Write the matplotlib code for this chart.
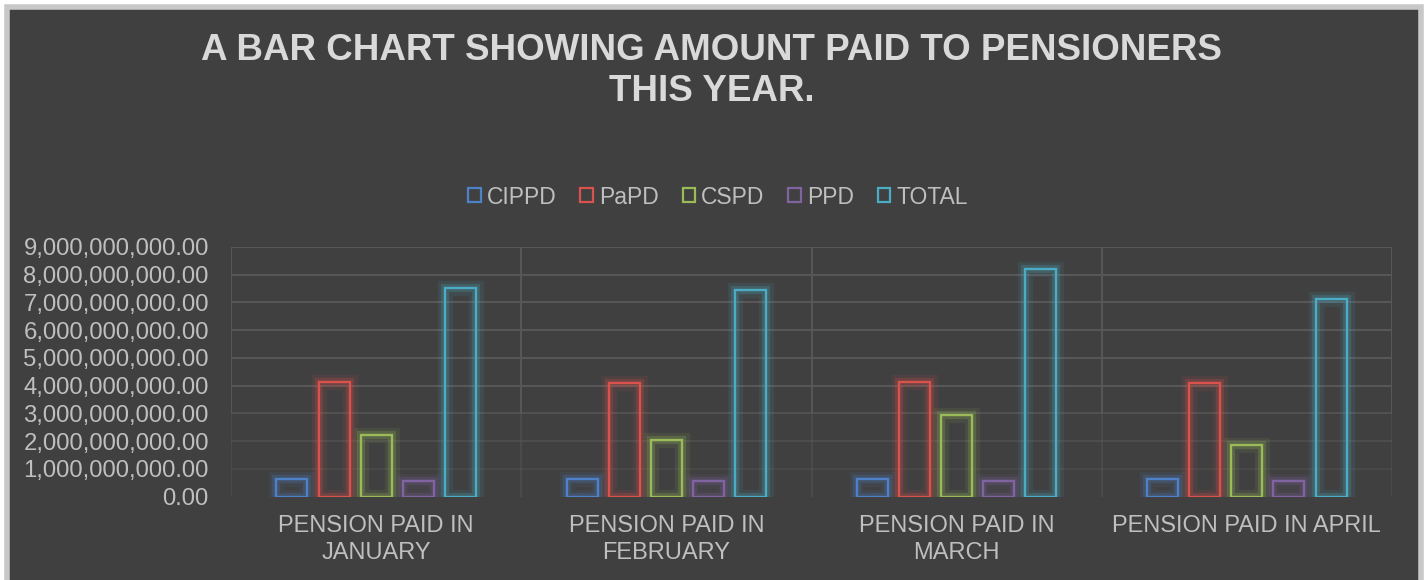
import numpy as np
import matplotlib.pyplot as plt
import matplotlib.patheffects as pe
from matplotlib.patches import Rectangle
from matplotlib.ticker import FuncFormatter

plt.rcParams['font.family'] = ['Liberation Sans', 'DejaVu Sans']

categories = ["PENSION PAID IN\nJANUARY", "PENSION PAID IN\nFEBRUARY",
              "PENSION PAID IN\nMARCH", "PENSION PAID IN APRIL"]
series = ["CIPPD", "PaPD", "CSPD", "PPD", "TOTAL"]
cippd = [0.64e9, 0.63e9, 0.63e9, 0.64e9]
papd = [4.12e9, 4.10e9, 4.13e9, 4.09e9]
cspd = [2.24e9, 2.05e9, 2.93e9, 1.87e9]
ppd = [0.58e9, 0.57e9, 0.57e9, 0.58e9]
total = [7.51e9, 7.45e9, 8.20e9, 7.13e9]
values = [cippd, papd, cspd, ppd, total]
colors = ['#4f81c8', '#d9534c', '#9bbb59', '#8064a2', '#4bacc6']

bg = '#404040'
txt = '#bfbfbf'

fig = plt.figure(figsize=(14.27, 5.80), dpi=100, facecolor='#ffffff')
# chart area frame (open at the bottom)
fig.patches.append(Rectangle((7/1427, -0.05), 1414/1427, 1.05 - 7/580, transform=fig.transFigure,
                             facecolor=bg, edgecolor='#c8c8c8', linewidth=4, zorder=-10))

ax = fig.add_axes([231/1427, 83.3/580, 1161/1427, 249.7/580])
ax.set_facecolor('none')

x = np.arange(len(categories))
step = 0.145
width = 0.107
for j, (name, vals, c) in enumerate(zip(series, values, colors)):
    bars = ax.bar(x + (j - 2) * step, vals, width, facecolor='none', edgecolor=c,
                  linewidth=1.7, label=name, zorder=3)
    for b in bars:
        b.set_path_effects([pe.Stroke(linewidth=11, foreground=c, alpha=0.1),
                            pe.Stroke(linewidth=6, foreground=c, alpha=0.22),
                            pe.Normal()])

ax.set_xlim(-0.5, 3.5)
ax.set_ylim(0, 9e9)

# gridlines (fade toward the bottom)
levels = np.arange(1, 10) * 1e9
for lv in levels:
    a = 1.0 if lv >= 4e9 else 0.35 + 0.2 * (lv / 1e9 - 1)
    ax.axhline(lv, color='#585858', linewidth=1.4, alpha=a, zorder=1)
for xv in np.arange(-0.5, 4.0, 1.0):
    ax.plot([xv, xv], [3e9, 9e9], color='#585858', linewidth=1.4, zorder=1)
    ax.plot([xv, xv], [0, 3e9], color='#585858', linewidth=1.4, alpha=0.45, zorder=1)

for s in ax.spines.values():
    s.set_visible(False)

ax.set_yticks(np.arange(0, 10) * 1e9)
ax.yaxis.set_major_formatter(FuncFormatter(lambda v, p: '{:,.2f}'.format(v)))
ax.set_xticks(x)
ax.set_xticklabels(categories, linespacing=1.3)
ax.tick_params(axis='y', length=0, pad=16, labelsize=17.2, labelcolor=txt)
ax.tick_params(axis='x', length=0, pad=13, labelsize=17, labelcolor=txt)

fig.text(0.4985, 1 - 71/580, "A BAR CHART SHOWING AMOUNT PAID TO PENSIONERS\nTHIS YEAR.",
         ha='center', va='center', fontsize=26.5, fontweight='bold', color='#d9d9d9',
         linespacing=1.25)

handles = [Rectangle((0, 0), 1, 1, facecolor='none', edgecolor=c, linewidth=1.6) for c in colors]
leg = fig.legend(handles, series, loc='center', bbox_to_anchor=(718/1427, 1 - 197/580),
                 ncol=5, frameon=False, fontsize=16.5, handlelength=0.55, handleheight=0.55,
                 handletextpad=0.25, columnspacing=1.05, labelcolor=txt)

fig.savefig('out.png', dpi=100, facecolor=fig.get_facecolor())
